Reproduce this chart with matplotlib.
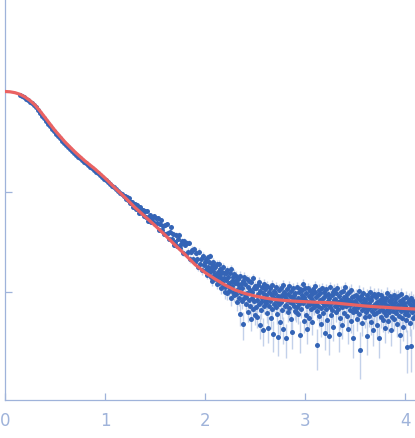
import numpy as np
import matplotlib
matplotlib.use("Agg")
import matplotlib.pyplot as plt

# log10 intensity, I(0) normalised to 1; q grid is regular within each block
q_low_start, q_low_step = 0.15, 0.02
log_i_low = [
    -0.035, -0.045, -0.056, -0.070, -0.086, -0.101, -0.118, -0.136, -0.157, -0.180,
    -0.216, -0.241, -0.269, -0.295, -0.321, -0.346, -0.371, -0.396, -0.421, -0.444,
    -0.469, -0.491, -0.515, -0.536, -0.556, -0.576, -0.594, -0.612, -0.631, -0.650,
    -0.666, -0.684, -0.701, -0.719, -0.735, -0.751, -0.766, -0.784, -0.801, -0.819,
    -0.834, -0.852, -0.870, -0.886, -0.905, -0.922, -0.941, -0.958, -0.976, -0.995,
    -1.011, -1.029, -1.046,
]

q_mid_start, q_mid_step = 1.20, 0.01
log_i_mid = [
    -1.04, -1.07, -1.05, -1.08, -1.06, -1.11, -1.10, -1.10, -1.15, -1.13,
    -1.12, -1.17, -1.13, -1.17, -1.21, -1.15, -1.18, -1.21, -1.18, -1.24,
    -1.19, -1.25, -1.19, -1.29, -1.25, -1.23, -1.30, -1.26, -1.30, -1.24,
    -1.32, -1.26, -1.31, -1.26, -1.38, -1.32, -1.28, -1.38, -1.34, -1.42,
    -1.33, -1.42, -1.32, -1.41, -1.47, -1.40, -1.35, -1.47, -1.42, -1.53,
    -1.50, -1.43, -1.54, -1.47, -1.43, -1.56, -1.52, -1.49, -1.61, -1.49,
    -1.53, -1.62, -1.51, -1.60, -1.51, -1.67, -1.60, -1.58, -1.67, -1.57,
    -1.70, -1.61, -1.67, -1.75, -1.60, -1.72, -1.67, -1.78, -1.64, -1.73,
]

q_high_start, q_high_step = 2.00, 0.005
log_i_high = [
    -1.70, -1.78, -1.67, -1.76, -1.83, -1.65, -1.75, -1.81, -1.70, -1.79, -1.64, -1.85, -1.76, -1.72, -1.89, -1.79, -1.70, -1.83, -1.75, -1.86,
    -1.75, -1.87, -1.82, -1.72, -1.92, -1.80, -1.85, -1.72, -1.91, -1.82, -1.77, -1.96, -1.86, -1.80, -1.90, -1.75, -1.94, -1.86, -1.81, -2.00,
    -1.95, -1.81, -1.88, -2.01, -1.78, -1.93, -1.85, -1.99, -1.91, -1.81, -1.96, -1.77, -2.06, -1.89, -1.94, -1.85, -2.00, -1.82, -2.03, -1.91,
    -1.89, -2.02, -1.84, -1.98, -2.10, -1.92, -1.87, -2.06, -1.96, -2.22, -1.84, -2.01, -1.92, -2.09, -1.96, -2.32, -1.89, -2.06, -1.85, -2.02,
    -1.92, -2.05, -2.12, -1.87, -2.01, -2.20, -1.95, -2.08, -1.89, -2.14, -1.98, -2.27, -1.90, -2.06, -2.00, -2.17, -1.86, -2.09, -1.96, -2.23,
    -1.94, -2.15, -1.96, -2.08, -2.25, -2.02, -1.93, -2.12, -1.90, -2.33, -1.99, -2.10, -2.18, -1.95, -2.06, -2.38, -2.01, -2.14, -1.92, -2.09,
    -1.97, -2.11, -2.03, -2.21, -1.94, -2.07, -2.36, -2.00, -2.14, -1.96, -2.09, -2.26, -2.02, -1.93, -2.17, -2.05, -2.42, -1.99, -2.12, -2.07,
    -2.01, -2.15, -1.95, -2.09, -2.22, -2.04, -2.45, -1.98, -2.12, -2.06, -2.30, -1.96, -2.10, -2.03, -2.18, -1.93, -2.37, -2.02, -2.00, -2.14,
    -2.05, -2.13, -2.46, -1.97, -2.08, -2.20, -2.02, -1.94, -2.16, -2.10, -2.04, -2.27, -1.99, -2.11, -2.40, -2.06, -1.96, -2.14, -2.03, -2.19,
    -2.01, -2.09, -2.20, -2.15, -1.95, -2.06, -2.22, -2.00, -2.12, -1.97, -2.43, -2.07, -2.17, -2.03, -1.98, -2.11, -1.92, -2.05, -2.29, -1.96,
    -2.08, -2.23, -2.01, -2.14, -2.37, -1.96, -2.10, -2.04, -2.26, -1.99, -2.12, -2.06, -2.17, -2.02, -2.30, -1.97, -2.09, -2.15, -2.13, -2.00,
    -1.94, -2.11, -2.05, -2.19, -2.53, -2.03, -2.14, -1.98, -2.24, -2.08, -2.01, -2.16, -2.32, -1.96, -2.10, -2.06, -2.21, -2.00, -2.13, -2.41,
    -2.04, -2.17, -1.97, -2.12, -2.28, -2.02, -2.09, -2.44, -2.06, -2.15, -1.95, -2.11, -2.23, -2.03, -2.18, -2.00, -2.35, -2.08, -1.98, -2.14,
    -2.07, -2.20, -2.01, -2.13, -1.96, -2.10, -2.17, -2.04, -2.42, -2.12, -2.26, -2.00, -2.08, -2.15, -2.33, -1.99, -2.11, -2.05, -2.21, -2.09,
    -1.95, -2.14, -2.06, -2.24, -2.02, -2.11, -2.37, -2.08, -2.00, -2.18, -2.13, -2.29, -1.98, -2.10, -2.05, -2.20, -2.46, -2.04, -2.16, -2.09,
    -2.10, -2.03, -2.19, -2.12, -2.27, -2.06, -2.15, -1.99, -2.22, -2.08, -2.58, -2.13, -2.04, -2.18, -2.31, -2.01, -2.11, -2.16, -2.07, -2.25,
    -2.09, -2.20, -2.13, -2.03, -2.44, -2.17, -2.06, -2.24, -2.11, -2.00, -2.15, -2.30, -2.08, -2.19, -2.04, -2.38, -2.14, -2.22, -2.02, -2.12,
    -2.16, -2.05, -2.21, -2.10, -2.33, -2.14, -2.02, -2.19, -2.46, -2.08, -2.13, -2.25, -2.03, -2.17, -2.11, -2.28, -2.06, -2.20, -2.09, -2.36,
    -2.12, -2.23, -2.06, -2.18, -2.01, -2.14, -2.29, -2.09, -2.20, -2.04, -2.16, -2.38, -2.11, -2.25, -2.07, -2.19, -2.13, -2.03, -2.27, -2.15,
    -2.10, -2.21, -2.06, -2.17, -2.32, -2.13, -2.04, -2.24, -2.15, -2.43, -2.09, -2.19, -2.02, -2.26, -2.12, -2.35, -2.07, -2.18, -2.11, -2.22,
    -2.14, -2.05, -2.28, -2.19, -2.55, -2.10, -2.23, -2.08, -2.17, -2.31, -2.12, -2.54, -2.06, -2.20, -2.15, -2.26, -2.09, -2.18, -2.13, -2.24, -2.11,
]

# absolute error, one level per q range
sigma_edges = [1.2, 1.6, 2.0, 2.4]
sigma_levels = [0.003, 0.0023, 0.0019, 0.0015, 0.0013]

# model fit
q_fit = [0.0, 0.05, 0.1, 0.15, 0.2, 0.25, 0.3, 0.35, 0.4, 0.45, 0.5, 0.6, 0.7, 0.8, 0.9,
         1.0, 1.1, 1.2, 1.3, 1.4, 1.5, 1.6, 1.7, 1.8, 1.9, 2.0, 2.1, 2.2, 2.3, 2.4,
         2.5, 2.6, 2.7, 2.8, 2.9, 3.0, 3.1, 3.2, 3.3, 3.4, 3.5, 3.6, 3.7, 3.8, 3.9,
         4.0, 4.1]
log_i_fit = [0.0, -0.003, -0.012, -0.028, -0.055, -0.09, -0.135, -0.195, -0.26, -0.325,
             -0.39, -0.505, -0.605, -0.695, -0.775, -0.865, -0.965, -1.06, -1.16, -1.25,
             -1.34, -1.435, -1.535, -1.63, -1.73, -1.81, -1.875, -1.935, -1.985, -2.02,
             -2.045, -2.065, -2.08, -2.09, -2.097, -2.102, -2.107, -2.11, -2.115, -2.125,
             -2.135, -2.145, -2.152, -2.158, -2.165, -2.17, -2.175]

q = np.concatenate([
    q_low_start + q_low_step * np.arange(len(log_i_low)),
    q_mid_start + q_mid_step * np.arange(len(log_i_mid)),
    q_high_start + q_high_step * np.arange(len(log_i_high)),
])
intensity = 10 ** np.array(log_i_low + log_i_mid + log_i_high)
sigma = np.array(sigma_levels)[np.digitize(q, sigma_edges)]

axis_col = "#9fb3da"
fig = plt.figure(figsize=(4.15, 4.38), dpi=100)
ax = fig.add_axes([5 / 415, 38 / 438, 410 / 415, 400 / 438])

ax.errorbar(q, intensity, yerr=sigma, fmt="none", ecolor="#c3d1ea", elinewidth=1.0, zorder=1)
ax.plot(q, intensity, "o", color="#3464b6", markersize=3.6, markeredgewidth=0, zorder=2)
ax.plot(q_fit, 10 ** np.array(log_i_fit), color="#ea6262", linewidth=2.3, zorder=3)

ax.set_yscale("log")
ax.set_xlim(0, 4.1)
ax.set_ylim(10 ** -3.085, 10 ** 0.915)
ax.set_xticks([0, 1, 2, 3, 4])
ax.set_yticks([0.01, 0.1])
ax.yaxis.set_minor_locator(matplotlib.ticker.NullLocator())
ax.set_yticklabels([])

for side in ["top", "right"]:
    ax.spines[side].set_visible(False)
for side in ["left", "bottom"]:
    ax.spines[side].set_color(axis_col)
    ax.spines[side].set_linewidth(0.9)
ax.tick_params(direction="in", length=5, width=0.9, color=axis_col,
               labelcolor=axis_col, labelsize=12)
ax.tick_params(axis="x", pad=9)

fig.savefig("out.png", dpi=100)
